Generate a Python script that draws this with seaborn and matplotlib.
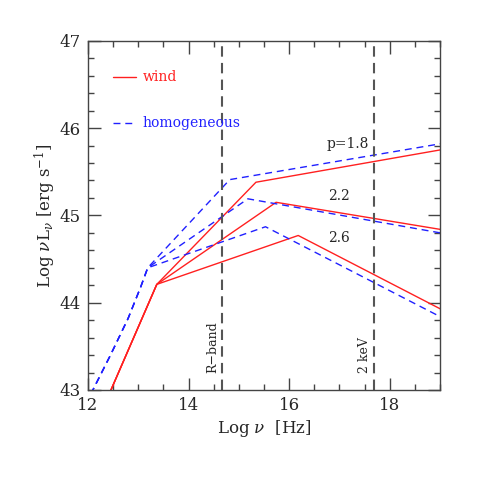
import numpy as np
import pandas as pd
import seaborn as sns
import matplotlib.pyplot as plt
from matplotlib.ticker import MultipleLocator

# log nu [Hz] / log nuL_nu [erg s^-1]
p_labels = ['1.8', '2.2', '2.6']

wind_x = {
    '1.8': [12.0, 13.37, 15.34, 19.0],
    '2.2': [12.0, 13.37, 15.74, 19.0],
    '2.6': [12.0, 13.37, 16.18, 19.0],
}
wind_y = {
    '1.8': [42.39, 44.21, 45.38, 45.75],
    '2.2': [42.39, 44.21, 45.15, 44.84],
    '2.6': [42.39, 44.21, 44.77, 43.93],
}

homo_x = {
    '1.8': [12.0, 12.10, 12.45, 12.80, 13.05, 13.19, 14.82, 19.0],
    '2.2': [12.0, 12.10, 12.45, 12.80, 13.05, 13.19, 15.18, 19.0],
    '2.6': [12.0, 12.10, 12.45, 12.80, 13.05, 13.19, 15.53, 19.0],
}
homo_y = {
    '1.8': [42.82, 43.0, 43.40, 43.82, 44.18, 44.40, 45.41, 45.82],
    '2.2': [42.82, 43.0, 43.40, 43.82, 44.18, 44.40, 45.19, 44.80],
    '2.6': [42.82, 43.0, 43.40, 43.82, 44.18, 44.40, 44.87, 43.84],
}

band_names = ['R\u2212band', '2 keV']
band_x = [14.66, 17.68]

label_text = ['p=1.8', '2.2', '2.6']
label_x = [17.17, 16.99, 16.99]
label_y = [45.82, 45.22, 44.74]

rows = []
for p in p_labels:
    for x, y in zip(wind_x[p], wind_y[p]):
        rows.append(('wind', p, x, y))
    for x, y in zip(homo_x[p], homo_y[p]):
        rows.append(('homogeneous', p, x, y))
df = pd.DataFrame(rows, columns=['model', 'p', 'lognu', 'logL'])

sns.set_style('ticks')
plt.rcParams['font.family'] = ['DejaVu Serif']
plt.rcParams['mathtext.fontset'] = 'dejavuserif'

fig = plt.figure(figsize=(4.8, 4.8), dpi=100)
ax = fig.add_axes([0.183, 0.1875, 0.734, 0.7275])

styles = {'wind': ('#ff2020', '-'), 'homogeneous': ('#2020ff', (0, (5, 3.5)))}
for model in ['wind', 'homogeneous']:
    col, ls = styles[model]
    for i, p in enumerate(p_labels):
        sub = df[(df.model == model) & (df.p == p)]
        sns.lineplot(data=sub, x='lognu', y='logL', ax=ax, color=col,
                     linestyle=ls, linewidth=1.0, sort=False,
                     label=model if i == 0 else None)

for name, bx in zip(band_names, band_x):
    ax.axvline(bx, color='#555555', linestyle=(0, (5, 3)), linewidth=1.5)
    ax.text(bx - 0.05, 43.2, name, rotation=90, ha='right',
            va='bottom', fontsize=9)

for t, tx, ty in zip(label_text, label_x, label_y):
    ax.text(tx, ty, t, ha='center', va='center', fontsize=10)

ax.set_xlim(12, 19)
ax.set_ylim(43, 47)
ax.xaxis.set_major_locator(MultipleLocator(2))
ax.xaxis.set_minor_locator(MultipleLocator(0.5))
ax.yaxis.set_major_locator(MultipleLocator(1))
ax.yaxis.set_minor_locator(MultipleLocator(0.2))
ax.tick_params(which='both', direction='in', top=True, right=True,
               color='#444444', labelsize=12, pad=5)
ax.tick_params(which='major', length=9, width=1)
ax.tick_params(which='minor', length=4.5, width=1)
for s in ax.spines.values():
    s.set_color('#444444')
    s.set_linewidth(1.0)

ax.set_xlabel(r'Log $\nu$  [Hz]', fontsize=12, labelpad=3)
ax.set_ylabel(r'Log $\nu$L$_\nu$ [erg s$^{-1}$]', fontsize=12, labelpad=1)

leg = ax.legend(loc='upper left', bbox_to_anchor=(0.07, 0.915), frameon=False,
                fontsize=10, handlelength=1.7, handletextpad=0.45,
                labelspacing=2.3, borderpad=0, borderaxespad=0,
                labelcolor='linecolor')

fig.savefig('out.png', dpi=100)
